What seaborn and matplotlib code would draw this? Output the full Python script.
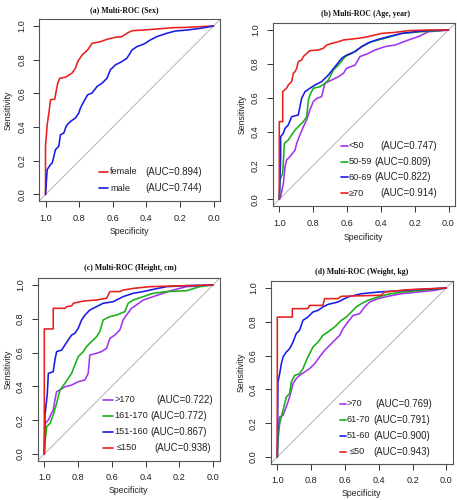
import matplotlib
matplotlib.use("Agg")
import matplotlib.pyplot as plt
import seaborn as sns
import pandas as pd
from matplotlib.lines import Line2D

sns.set_style("white")
plt.rcParams['font.family'] = ['Liberation Sans', 'DejaVu Sans']

# ---------------- data (specificity, sensitivity) ----------------
# (a) Sex
a_female_spec = [1.0, 1.0, 0.990, 0.980, 0.970, 0.945, 0.935, 0.927, 0.915, 0.881, 0.842, 0.822, 0.808, 0.782, 0.749, 0.723, 0.673, 0.634, 0.584, 0.545, 0.515, 0.485, 0.416, 0.317, 0.238, 0.158, 0.079, 0.0]
a_female_sens = [0.0, 0.286, 0.414, 0.483, 0.562, 0.566, 0.621, 0.661, 0.690, 0.696, 0.720, 0.750, 0.789, 0.828, 0.858, 0.897, 0.907, 0.921, 0.933, 0.937, 0.957, 0.972, 0.976, 0.984, 0.990, 0.992, 0.996, 1.0]
a_male_spec = [1.0, 0.994, 0.990, 0.970, 0.960, 0.950, 0.941, 0.921, 0.911, 0.891, 0.881, 0.871, 0.851, 0.822, 0.802, 0.792, 0.772, 0.749, 0.723, 0.693, 0.663, 0.634, 0.614, 0.584, 0.545, 0.515, 0.485, 0.455, 0.416, 0.376, 0.337, 0.277, 0.228, 0.158, 0.079, 0.0]
a_male_sens = [0.0, 0.089, 0.148, 0.178, 0.187, 0.227, 0.266, 0.286, 0.355, 0.365, 0.394, 0.414, 0.434, 0.454, 0.483, 0.513, 0.552, 0.592, 0.602, 0.641, 0.661, 0.690, 0.740, 0.769, 0.789, 0.809, 0.858, 0.878, 0.892, 0.917, 0.937, 0.957, 0.970, 0.976, 0.986, 1.0]

# (b) Age
b_lt50_spec = [1.0, 0.992, 0.986, 0.976, 0.966, 0.957, 0.937, 0.907, 0.897, 0.878, 0.858, 0.838, 0.819, 0.799, 0.779, 0.750, 0.730, 0.690, 0.651, 0.621, 0.602, 0.552, 0.523, 0.473, 0.434, 0.375, 0.316, 0.237, 0.178, 0.118, 0.039, 0.0]
b_lt50_sens = [0.0, 0.016, 0.045, 0.094, 0.193, 0.232, 0.252, 0.291, 0.331, 0.380, 0.429, 0.469, 0.528, 0.577, 0.596, 0.606, 0.685, 0.705, 0.724, 0.744, 0.774, 0.793, 0.843, 0.862, 0.882, 0.902, 0.911, 0.941, 0.961, 0.990, 0.996, 1.0]
b_50_59_spec = [1.0, 0.996, 0.980, 0.970, 0.947, 0.927, 0.907, 0.878, 0.858, 0.838, 0.828, 0.819, 0.799, 0.759, 0.730, 0.710, 0.680, 0.651, 0.611, 0.572, 0.513, 0.454, 0.375, 0.276, 0.158, 0.0]
b_50_59_sens = [0.0, 0.114, 0.154, 0.331, 0.350, 0.380, 0.409, 0.439, 0.459, 0.488, 0.587, 0.616, 0.656, 0.665, 0.685, 0.705, 0.764, 0.793, 0.843, 0.862, 0.902, 0.931, 0.951, 0.980, 0.990, 1.0]
b_60_69_spec = [1.0, 0.992, 0.992, 0.976, 0.966, 0.947, 0.927, 0.888, 0.878, 0.868, 0.848, 0.819, 0.789, 0.750, 0.710, 0.671, 0.631, 0.602, 0.552, 0.513, 0.473, 0.414, 0.355, 0.276, 0.197, 0.118, 0.0]
b_60_69_sens = [0.0, 0.252, 0.370, 0.390, 0.419, 0.439, 0.488, 0.498, 0.547, 0.596, 0.636, 0.656, 0.675, 0.695, 0.734, 0.783, 0.833, 0.852, 0.872, 0.902, 0.925, 0.945, 0.961, 0.980, 0.990, 0.996, 1.0]
b_ge70_spec = [1.0, 1.0, 0.980, 0.980, 0.957, 0.947, 0.927, 0.917, 0.907, 0.897, 0.888, 0.868, 0.858, 0.838, 0.819, 0.769, 0.740, 0.720, 0.690, 0.651, 0.621, 0.533, 0.493, 0.394, 0.316, 0.237, 0.118, 0.0]
b_ge70_sens = [0.0, 0.459, 0.459, 0.636, 0.656, 0.675, 0.695, 0.744, 0.754, 0.774, 0.813, 0.823, 0.843, 0.862, 0.878, 0.882, 0.892, 0.911, 0.921, 0.931, 0.941, 0.951, 0.957, 0.980, 0.986, 0.996, 1.0, 1.0]

# (c) Height
c_gt170_spec = [1.0, 0.996, 0.976, 0.957, 0.947, 0.937, 0.927, 0.907, 0.878, 0.838, 0.799, 0.759, 0.740, 0.730, 0.690, 0.661, 0.631, 0.611, 0.582, 0.552, 0.533, 0.513, 0.483, 0.454, 0.414, 0.355, 0.296, 0.237, 0.158, 0.0]
c_gt170_sens = [0.0, 0.181, 0.201, 0.241, 0.260, 0.320, 0.369, 0.379, 0.398, 0.408, 0.428, 0.438, 0.477, 0.586, 0.596, 0.606, 0.625, 0.684, 0.704, 0.734, 0.793, 0.822, 0.862, 0.882, 0.911, 0.931, 0.951, 0.970, 0.990, 1.0]
c_161_170_spec = [1.0, 0.996, 0.986, 0.966, 0.947, 0.927, 0.907, 0.878, 0.858, 0.838, 0.819, 0.799, 0.769, 0.750, 0.720, 0.690, 0.671, 0.651, 0.611, 0.572, 0.523, 0.503, 0.473, 0.414, 0.355, 0.276, 0.158, 0.079, 0.0]
c_161_170_sens = [0.0, 0.063, 0.162, 0.181, 0.231, 0.300, 0.379, 0.418, 0.448, 0.477, 0.527, 0.576, 0.606, 0.635, 0.665, 0.694, 0.724, 0.793, 0.813, 0.822, 0.842, 0.892, 0.911, 0.931, 0.951, 0.961, 0.966, 0.990, 1.0]
c_151_160_spec = [1.0, 0.996, 0.986, 0.982, 0.976, 0.947, 0.937, 0.927, 0.897, 0.878, 0.858, 0.838, 0.819, 0.799, 0.779, 0.759, 0.730, 0.690, 0.651, 0.592, 0.533, 0.473, 0.414, 0.355, 0.276, 0.158, 0.0]
c_151_160_sens = [0.0, 0.231, 0.320, 0.359, 0.477, 0.487, 0.556, 0.606, 0.615, 0.645, 0.675, 0.704, 0.714, 0.744, 0.793, 0.822, 0.852, 0.872, 0.892, 0.901, 0.931, 0.951, 0.961, 0.974, 0.990, 0.996, 1.0]
c_le150_spec = [1.0, 1.0, 0.947, 0.947, 0.878, 0.868, 0.838, 0.828, 0.789, 0.750, 0.690, 0.671, 0.631, 0.611, 0.552, 0.533, 0.473, 0.375, 0.237, 0.0]
c_le150_sens = [0.0, 0.740, 0.740, 0.862, 0.862, 0.872, 0.876, 0.892, 0.901, 0.907, 0.911, 0.915, 0.921, 0.961, 0.961, 0.970, 0.980, 0.990, 0.994, 1.0]

# (d) Weight
d_gt70_spec = [1.0, 0.996, 0.986, 0.966, 0.947, 0.927, 0.907, 0.888, 0.868, 0.838, 0.809, 0.779, 0.750, 0.720, 0.690, 0.661, 0.631, 0.611, 0.582, 0.552, 0.513, 0.483, 0.454, 0.404, 0.345, 0.266, 0.168, 0.069, 0.0]
d_gt70_sens = [0.0, 0.158, 0.237, 0.247, 0.296, 0.355, 0.434, 0.464, 0.483, 0.503, 0.523, 0.552, 0.592, 0.631, 0.661, 0.690, 0.720, 0.759, 0.799, 0.838, 0.848, 0.888, 0.917, 0.937, 0.951, 0.966, 0.976, 0.986, 1.0]
d_61_70_spec = [1.0, 0.996, 0.986, 0.966, 0.947, 0.927, 0.917, 0.897, 0.868, 0.848, 0.828, 0.809, 0.789, 0.759, 0.730, 0.700, 0.661, 0.621, 0.592, 0.562, 0.533, 0.503, 0.464, 0.404, 0.345, 0.266, 0.148, 0.0]
d_61_70_sens = [0.0, 0.099, 0.197, 0.276, 0.355, 0.375, 0.444, 0.483, 0.493, 0.523, 0.572, 0.611, 0.651, 0.680, 0.720, 0.740, 0.769, 0.809, 0.828, 0.858, 0.888, 0.907, 0.927, 0.947, 0.963, 0.976, 0.986, 1.0]
d_51_60_spec = [1.0, 0.996, 0.986, 0.976, 0.966, 0.947, 0.927, 0.907, 0.888, 0.868, 0.848, 0.819, 0.789, 0.759, 0.730, 0.700, 0.641, 0.582, 0.503, 0.404, 0.306, 0.187, 0.0]
d_51_60_sens = [0.0, 0.444, 0.493, 0.552, 0.592, 0.621, 0.641, 0.680, 0.730, 0.750, 0.809, 0.828, 0.858, 0.868, 0.888, 0.903, 0.917, 0.947, 0.966, 0.976, 0.982, 0.990, 1.0]
d_le50_spec = [1.0, 1.0, 0.911, 0.911, 0.819, 0.809, 0.730, 0.720, 0.641, 0.621, 0.385, 0.365, 0.227, 0.0]
d_le50_sens = [0.0, 0.828, 0.828, 0.878, 0.878, 0.897, 0.897, 0.937, 0.937, 0.951, 0.957, 0.976, 0.990, 1.0]

titles = ["(a) Multi-ROC (Sex)", "(b) Multi-ROC (Age, year)",
          "(c) Multi-ROC (Height, cm)", "(d) Multi-ROC (Weight, kg)"]
a_groups = ["female", "male"]
a_auc = ["(AUC=0.894)", "(AUC=0.744)"]
b_groups = ["<50", "50-59", "60-69", "\u226570"]
b_auc = ["(AUC=0.747)", "(AUC=0.809)", "(AUC=0.822)", "(AUC=0.914)"]
c_groups = [">170", "161-170", "151-160", "\u2264150"]
c_auc = ["(AUC=0.722)", "(AUC=0.772)", "(AUC=0.867)", "(AUC=0.938)"]
d_groups = [">70", "61-70", "51-60", "\u226450"]
d_auc = ["(AUC=0.769)", "(AUC=0.791)", "(AUC=0.900)", "(AUC=0.943)"]
tick_values = [1.0, 0.8, 0.6, 0.4, 0.2, 0.0]
tick_labels = ["1.0", "0.8", "0.6", "0.4", "0.2", "0.0"]

RED, BLUE, GREEN, PURPLE = "#E8201E", "#1A1AE6", "#17B017", "#A035EE"

# ---------------- layout (pixels) ----------------
W, H = 457, 500
fig = plt.figure(figsize=(W / 100, H / 100), dpi=100)
fig.patch.set_facecolor("white")
PAD = 0.04

panels = [
    dict(px=(45.5, 213.5, 26.0, 194.5), title=titles[0], tpos=(124, 10),
         ylab_x=8.5, xlab_y=231,
         series=[(a_female_spec, a_female_sens, RED), (a_male_spec, a_male_sens, BLUE)],
         groups=a_groups, aucs=a_auc, colors=[RED, BLUE],
         leg_line=(99, 108), leg_name=[110, 110], leg_auc=[145.7, 145.7], leg_rows=[171.7, 188.3]),
    dict(px=(279.3, 448.5, 30.0, 199.3), title=titles[1], tpos=(366, 14),
         ylab_x=242, xlab_y=237,
         series=[(b_lt50_spec, b_lt50_sens, PURPLE), (b_50_59_spec, b_50_59_sens, GREEN),
                 (b_60_69_spec, b_60_69_sens, BLUE), (b_ge70_spec, b_ge70_sens, RED)],
         groups=b_groups, aucs=b_auc, colors=[PURPLE, GREEN, BLUE, RED],
         leg_line=(341.3, 347.5), leg_name=[348.3] * 4, leg_auc=[380.7, 370.3, 370.3, 380.7],
         leg_rows=[145.7, 161.7, 177.3, 193.3]),
    dict(px=(44.3, 213.0, 285.0, 454.0), title=titles[2], tpos=(130, 268),
         ylab_x=8.5, xlab_y=490.7,
         series=[(c_gt170_spec, c_gt170_sens, PURPLE), (c_161_170_spec, c_161_170_sens, GREEN),
                 (c_151_160_spec, c_151_160_sens, BLUE), (c_le150_spec, c_le150_sens, RED)],
         groups=c_groups, aucs=c_auc, colors=[PURPLE, GREEN, BLUE, RED],
         leg_line=(103.3, 113.3), leg_name=[114.5, 114.5, 114.5, 117.0],
         leg_auc=[156.7, 146.7, 146.7, 154.0],
         leg_rows=[400.0, 415.7, 431.7, 447.7]),
    dict(px=(277.3, 446.3, 288.0, 457.0), title=titles[3], tpos=(362, 271.7),
         ylab_x=240.7, xlab_y=494,
         series=[(d_gt70_spec, d_gt70_sens, PURPLE), (d_61_70_spec, d_61_70_sens, GREEN),
                 (d_51_60_spec, d_51_60_sens, BLUE), (d_le50_spec, d_le50_sens, RED)],
         groups=d_groups, aucs=d_auc, colors=[PURPLE, GREEN, BLUE, RED],
         leg_line=(339.5, 345.5), leg_name=[346.5, 346.5, 346.5, 349.5],
         leg_auc=[375.7, 373.0, 373.0, 373.0],
         leg_rows=[404.0, 420.0, 435.7, 451.7]),
]

def fx(x):
    return x / W

def fy(y):
    return 1 - y / H

renderer = fig.canvas.get_renderer()

for p in panels:
    x1, x0, y1, y0 = p["px"]
    sx, sy = x0 - x1, y0 - y1
    left = x1 - PAD * sx
    top = y1 - PAD * sy
    width = (1 + 2 * PAD) * sx
    height = (1 + 2 * PAD) * sy
    ax = fig.add_axes([left / W, 1 - (top + height) / H, width / W, height / H])

    ax.axline((1, 0), (0, 1), color="#b5b5b5", lw=0.7, zorder=1)
    for spec, sens, col in p["series"]:
        df = pd.DataFrame({"Specificity": spec, "Sensitivity": sens})
        sns.lineplot(data=df, x="Specificity", y="Sensitivity", sort=False,
                     estimator=None, color=col, lw=1.15, ax=ax, zorder=3)

    ax.set_xlim(1 + PAD, -PAD)
    ax.set_ylim(-PAD, 1 + PAD)
    ax.set_xticks(tick_values)
    ax.set_xticklabels(tick_labels)
    ax.set_yticks(tick_values)
    ax.set_yticklabels(tick_labels, rotation=90, va="center")
    ax.tick_params(axis="both", which="both", direction="out", length=4, width=0.7,
                   color="#333333", labelsize=6.6, pad=5, labelcolor="#222222",
                   bottom=True, left=True)
    ax.set_xlabel("")
    ax.set_ylabel("")
    for s in ax.spines.values():
        s.set_color("#555555")
        s.set_linewidth(0.8)

    fig.text(fx(p["tpos"][0]), fy(p["tpos"][1]), p["title"], ha="center", va="center",
             fontsize=5.6, fontweight="bold", family=["Liberation Serif", "DejaVu Serif"],
             color="#111111")
    fig.text(fx(p["ylab_x"]), fy((y1 + y0) / 2), "Sensitivity", rotation=90,
             ha="center", va="center", fontsize=6.3, color="#222222")
    fig.text(fx((x1 + x0) / 2), fy(p["xlab_y"]), "Specificity",
             ha="center", va="center", fontsize=6.3, color="#222222")

    lx0, lx1 = p["leg_line"]
    for name, auc, col, nx, ax_auc, ry in zip(p["groups"], p["aucs"], p["colors"],
                                             p["leg_name"], p["leg_auc"], p["leg_rows"]):
        fig.add_artist(Line2D([fx(lx0), fx(lx1)], [fy(ry), fy(ry)], color=col, lw=1.2,
                              transform=fig.transFigure))
        t = fig.text(fx(nx), fy(ry), name, ha="left", va="center",
                     fontsize=6.6, color="#222222")
        name_right = t.get_window_extent(renderer=renderer).x1
        x_auc = max(ax_auc, name_right + 2.5)
        fig.text(fx(x_auc), fy(ry), auc, ha="left", va="center",
                 fontsize=6.9, color="#222222")

fig.savefig("out.png", dpi=100, facecolor="white")
